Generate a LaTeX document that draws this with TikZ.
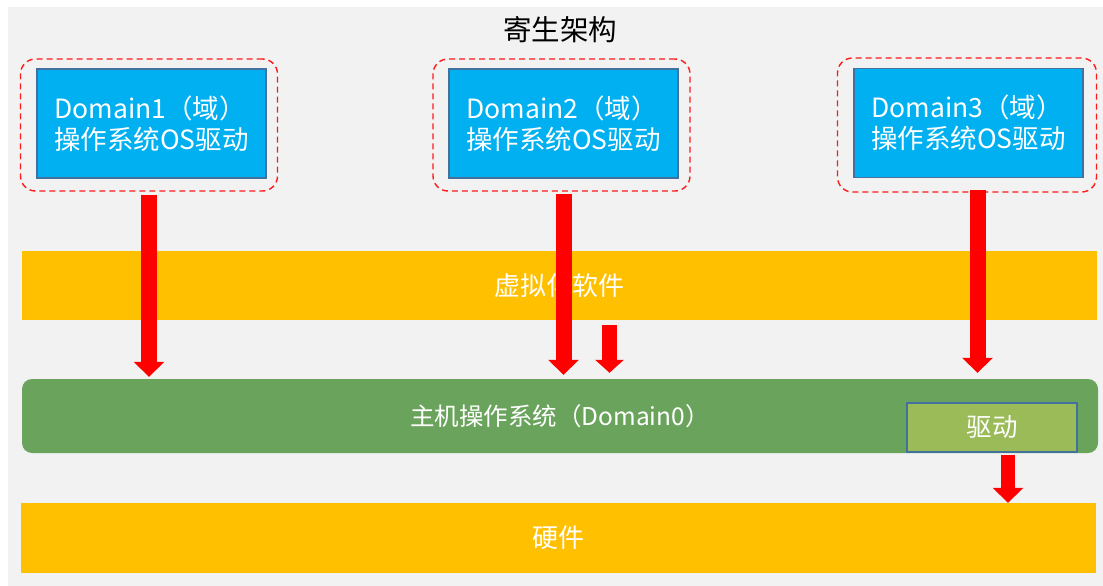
\documentclass[tikz,border=0pt]{standalone}
\usepackage{fontspec}
\setmainfont{Noto Sans CJK SC}
\usetikzlibrary{arrows.meta,positioning}
\definecolor{cbg}{HTML}{F2F2F2}
\definecolor{cblue}{HTML}{00B0F0}
\definecolor{cedge}{HTML}{41719C}
\definecolor{cyellow}{HTML}{FFC000}
\definecolor{cgreen}{HTML}{6AA45C}
\definecolor{clime}{HTML}{9BBB59}
\definecolor{cred}{HTML}{FF0000}

\begin{document}
\begin{tikzpicture}[x=1pt,y=-1pt,
  dash node/.style={draw=cred!90!white,dashed,dash pattern=on 6pt off 4pt,line width=1.4pt,rounded corners=15pt,minimum width=257pt,minimum height=132pt},
  domain node/.style={draw=cedge,fill=cblue,text=white,line width=1.2pt,minimum width=229pt,minimum height=109pt,align=left,font=\fontsize{26.5pt}{31pt}\selectfont},
  band node/.style={fill=cyellow,text=white,minimum width=1075pt,minimum height=70pt,font=\fontsize{26pt}{30pt}\selectfont},
  red arrow/.style={draw=cred,line width=16pt,-{Triangle[width=30pt,length=15pt]}}]
  \useasboundingbox (0,0) rectangle (1103,586);
  \fill[cbg] (8,7) rectangle (1103,586);

  \node (title) at (560,30) {\fontsize{28.5pt}{32pt}\selectfont 寄生架构};

  % guests
  \node[dash node] (dash1) at (149,125) {};
  \node[dash node] (dash2) at (561.5,125) {};
  \node[dash node,minimum width=259pt,minimum height=134pt] (dash3) at (967,125) {};
  \node[domain node] (dom1) at (151.5,123.5) {Domain1（域）\\操作系统OS驱动};
  \node[domain node] (dom2) at (563.5,123.5) {Domain2（域）\\操作系统OS驱动};
  \node[domain node] (dom3) at (968.5,123) {Domain3（域）\\操作系统OS驱动};

  % layers
  \node[band node,minimum height=69pt] (virt) at (559.5,285.5) {虚拟化软件};
  \node[fill=cgreen,text=white,rounded corners=10pt,minimum width=1076pt,minimum height=74pt,
        font=\fontsize{24.5pt}{28pt}\selectfont] (host) at (560,416) {主机操作系统（Domain0）};
  \node[draw=cedge,fill=clime,text=white,line width=1.2pt,minimum width=170pt,minimum height=49pt,
        font=\fontsize{25.5pt}{28pt}\selectfont] (drv) at (992,427.5) {驱动};
  \node[band node] (hw) at (558.5,538) {硬件};

  % calls
  \draw[red arrow,shorten <=16pt,shorten >=2pt] ([xshift=-2.5pt]dom1.south) -- ([xshift=-2.5pt]dom1.south |- host.north);
  \draw[red arrow,shorten <=15pt,shorten >=4pt] (dom2.south) -- (dom2.south |- host.north);
  \draw[red arrow,shorten <=12pt,shorten >=6pt] ([xshift=9pt]dom3.south) -- ([xshift=9pt]dom3.south |- host.north);
  \draw[red arrow,line width=15pt,-{Triangle[width=28pt,length=13pt]},shorten <=5pt,shorten >=6pt]
    ([xshift=50pt]virt.south) -- ([xshift=50pt]virt.south |- host.north);
  \draw[red arrow,line width=14pt,shorten <=2pt] ([xshift=16pt]drv.south) -- ([xshift=16pt]drv.south |- hw.north);
\end{tikzpicture}
\end{document}
